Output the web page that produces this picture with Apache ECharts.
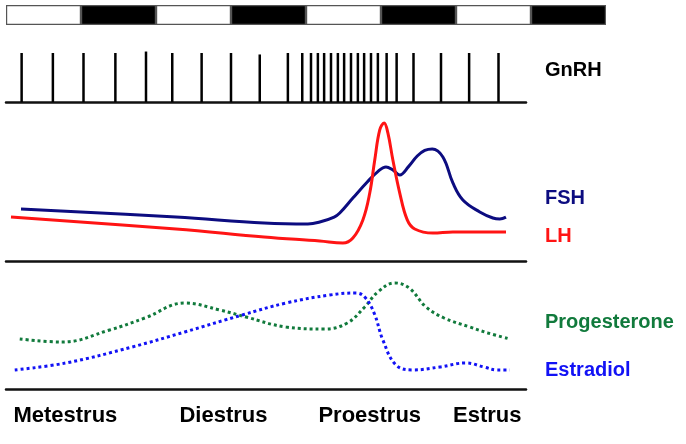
<!DOCTYPE html>
<html>
<head>
<meta charset="utf-8">
<script src="https://cdn.jsdelivr.net/npm/echarts@6/dist/echarts.min.js"></script>
<style>
html, body { margin: 0; padding: 0; background: #fff; }
#chart { width: 686px; height: 444px; }
</style>
</head>
<body>
<div id="chart"></div>
<script>
// light / dark phases, 12 h each
var lightCycle = ['light', 'dark', 'light', 'dark', 'light', 'dark', 'light', 'dark'];

// GnRH pulses (hours)
var gnrhPulses = [2.5, 7.5, 12.4, 17.5, 22.4, 26.6, 31.3, 36.0, 40.6, 45.1, 47.4, 48.8, 49.9, 50.9,
    52.0, 53.1, 54.1, 55.2, 56.3, 57.3, 58.4, 59.5, 60.9, 62.5, 65.2, 69.6, 74.1, 78.8];
var gnrhHeights = [1, 1, 1, 1, 1.03, 1, 1, 1, 0.97, 1, 1, 1, 1, 1,
    1, 1, 1, 1, 1, 1, 1, 1, 1, 1, 1, 1, 1, 1];

// FSH / LH (relative units)
var fshHours = [2.4, 27.2, 41.3, 48.3, 50.2, 52.5, 53.4, 55.5, 57.8, 59.4, 60.8, 61.9, 63.0, 64.4, 65.8, 67.0, 68.2, 69.9, 71.5, 73.1, 75.8, 77.9, 79.0, 80.0];
var fshLevels = [34.4, 29.1, 25.2, 24.5, 25.8, 29.1, 31.8, 41.7, 52.3, 58.9, 62.3, 60.3, 57.0, 62.5, 69.5, 73.2, 74.2, 68.9, 51.7, 40.4, 32.5, 28.5, 27.8, 29.1];
var lhHours = [0.8, 27.2, 41.3, 50.2, 53.9, 55.5, 57.1, 58.2, 59.0, 59.8, 60.5, 61.1, 61.9, 63.0, 64.2, 65.4, 68.3, 71.5, 74.7, 80.0];
var lhLevels = [29.1, 21.2, 15.9, 13.2, 11.9, 15.2, 27.2, 45.0, 66.9, 86.8, 91.4, 84.8, 66.9, 45.0, 27.2, 21.2, 18.5, 19.2, 19.2, 19.2];

// progesterone / estradiol (relative units)
var progHours = [2.2, 9.0, 16.6, 22.2, 28.6, 34.2, 38.4, 44.8, 51.0, 54.6, 57.4, 59.5, 62.2, 64.5, 67.2, 70.1, 74.2, 77.1, 80.6];
var progLevels = [39.4, 37.0, 46.5, 55.9, 67.7, 62.2, 56.7, 48.8, 47.2, 52.0, 64.6, 76.4, 83.5, 79.5, 64.6, 55.9, 48.8, 44.1, 39.4];
var e2Hours = [1.4, 9.6, 20.2, 28.6, 37.8, 44.8, 51.8, 56.0, 57.4, 58.9, 60.3, 62.4, 65.1, 69.4, 73.6, 76.5, 78.6, 80.6];
var e2Levels = [15.0, 20.5, 33.1, 44.9, 58.3, 67.7, 74.0, 75.6, 72.4, 59.8, 38.6, 18.9, 15.0, 17.3, 20.5, 17.3, 15.0, 15.0];

// cycle stages along the bottom
var phaseNames = ['Metestrus', 'Diestrus', 'Proestrus', 'Estrus'];
var phaseHours = [9.5, 34.8, 58.2, 77.0];

function zip(xs, ys) {
    return xs.map(function (x, i) { return [x, ys[i]]; });
}

var chart = echarts.init(document.getElementById('chart'));
var font = '"Liberation Sans", Arial, sans-serif';
var plotW = 520, hourMax = 83.2;

function panelX(idx, extra) {
    var ax = {
        gridIndex: idx,
        type: 'value',
        min: 0,
        max: hourMax,
        axisLine: { show: true, onZero: false, lineStyle: { color: '#111', width: 2.5 } },
        axisTick: { show: false },
        axisLabel: { show: false },
        splitLine: { show: false }
    };
    return Object.assign(ax, extra || {});
}

function panelY(idx, max) {
    return { gridIndex: idx, type: 'value', min: 0, max: max, show: false, splitLine: { show: false } };
}

function label(text, y, color) {
    return {
        type: 'text', left: 545, top: y - 12,
        style: { text: text, fill: color, font: 'bold 20px ' + font }
    };
}

var option = {
    animation: false,
    grid: [
        { left: 6, top: 5, width: 600, height: 20 },
        { left: 6, top: 53, width: plotW, height: 49 },
        { left: 6, top: 110, width: plotW, height: 151 },
        { left: 6, top: 262, width: plotW, height: 127 }
    ],
    xAxis: [
        { gridIndex: 0, type: 'category', data: lightCycle, show: false },
        panelX(1),
        panelX(2),
        panelX(3, {
            axisLabel: {
                show: true,
                customValues: phaseHours,
                margin: 16,
                color: '#000',
                fontFamily: font,
                fontWeight: 'bold',
                fontSize: 22,
                formatter: function (v) {
                    var i = phaseHours.indexOf(v);
                    return i >= 0 ? phaseNames[i] : '';
                }
            }
        })
    ],
    yAxis: [panelY(0, 1), panelY(1, 1), panelY(2, 100), panelY(3, 100)],
    graphic: [
        label('GnRH', 72, '#000'),
        label('FSH', 200, '#0c0c80'),
        label('LH', 238, '#ff1414'),
        label('Progesterone', 324, '#117a3c'),
        label('Estradiol', 372, '#1212f5')
    ],
    series: [
        {
            type: 'bar',
            xAxisIndex: 0, yAxisIndex: 0,
            barCategoryGap: 0,
            data: lightCycle.map(function (p) {
                return { value: 1, itemStyle: { color: p === 'dark' ? '#000' : '#fff' } };
            }),
            itemStyle: { borderColor: '#555', borderWidth: 1.2 }
        },
        {
            type: 'custom',
            xAxisIndex: 1, yAxisIndex: 1,
            data: zip(gnrhPulses, gnrhHeights),
            renderItem: function (params, api) {
                var p0 = api.coord([api.value(0), 0]);
                var p1 = api.coord([api.value(0), api.value(1)]);
                return {
                    type: 'line',
                    shape: { x1: p0[0], y1: p0[1], x2: p1[0], y2: p1[1] },
                    style: { stroke: '#000', lineWidth: 2.5 }
                };
            }
        },
        {
            name: 'FSH', type: 'line', xAxisIndex: 2, yAxisIndex: 2,
            data: zip(fshHours, fshLevels), smooth: 0.4, symbol: 'none',
            lineStyle: { color: '#0c0c80', width: 3 }
        },
        {
            name: 'LH', type: 'line', xAxisIndex: 2, yAxisIndex: 2,
            data: zip(lhHours, lhLevels), smooth: 0.4, symbol: 'none',
            lineStyle: { color: '#ff1414', width: 3 }
        },
        {
            name: 'Progesterone', type: 'line', xAxisIndex: 3, yAxisIndex: 3,
            data: zip(progHours, progLevels), smooth: 0.4, symbol: 'none',
            lineStyle: { color: '#117a3c', width: 3, type: [3, 3] }
        },
        {
            name: 'Estradiol', type: 'line', xAxisIndex: 3, yAxisIndex: 3,
            data: zip(e2Hours, e2Levels), smooth: 0.4, symbol: 'none',
            lineStyle: { color: '#1212f5', width: 3, type: [3, 3] }
        }
    ]
};

chart.setOption(option);
</script>
</body>
</html>
